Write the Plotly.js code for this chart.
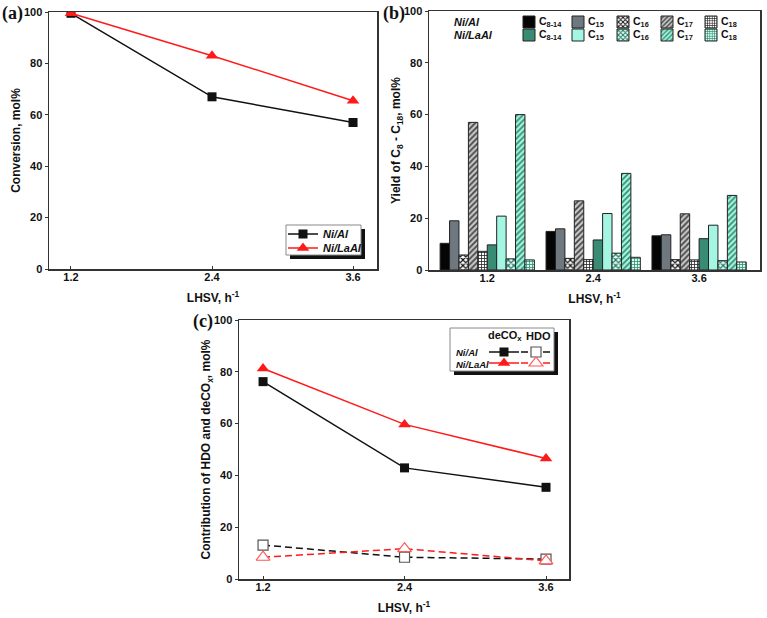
<!DOCTYPE html>
<html><head><meta charset="utf-8">
<script src="https://cdn.plot.ly/plotly-3.0.1.min.js"></script>
<style>html,body{margin:0;padding:0;background:#fff}#chart{width:767px;height:618px}</style>
</head><body><div id="chart"></div>
<script>
// ---------- Panel (a): conversion ----------
var lhsv = [1.2, 2.4, 3.6];
var lhsvLabels = ['1.2', '2.4', '3.6'];
var convNiAl = [99.5, 67, 57];
var convNiLaAl = [99.5, 83, 65.5];

// ---------- Panel (b): yields by fraction ----------
var lhsvCats = ['1.2', '2.4', '3.6'];
var fractionLabels = ['C<sub>8-14</sub>', 'C<sub>15</sub>', 'C<sub>16</sub>', 'C<sub>17</sub>', 'C<sub>18</sub>'];
var niAl_C8_14 = [10.3, 14.9, 13.2];
var niAl_C15 = [19.0, 15.9, 13.6];
var niAl_C16 = [5.8, 4.5, 4.0];
var niAl_C17 = [57.0, 26.7, 21.7];
var niAl_C18 = [7.2, 4.0, 3.9];
var niLaAl_C8_14 = [9.7, 11.6, 12.1];
var niLaAl_C15 = [20.8, 21.8, 17.3];
var niLaAl_C16 = [4.3, 6.5, 3.6];
var niLaAl_C17 = [60.0, 37.3, 28.8];
var niLaAl_C18 = [3.9, 4.9, 3.1];

// ---------- Panel (c): contribution ----------
var decoxNiAl = [76.2, 42.9, 35.4];
var decoxNiLaAl = [81.3, 59.7, 46.5];
var hdoNiAl = [13.1, 8.4, 7.7];
var hdoNiLaAl = [8.4, 11.7, 7.0];

var W = 767, H = 618;
function px(x) { return x / W; }
function py(y) { return 1 - y / H; }
var FONT = 'Liberation Sans, Arial, sans-serif';

var traces = [];
var legends = {};
var legendCount = 0;
function newLegend(xPx, yPx, fontOpts) {
  legendCount++;
  var id = legendCount === 1 ? 'legend' : 'legend' + legendCount;
  legends[id] = {
    x: px(xPx), y: py(yPx), xanchor: 'left', yanchor: 'middle',
    bgcolor: 'rgba(0,0,0,0)', borderwidth: 0, orientation: 'v',
    font: Object.assign({family: FONT, size: 11, weight: 'bold', style: 'italic', color: '#111'}, fontOpts || {})
  };
  return id;
}

// (a) traces
traces.push({x: lhsv, y: convNiAl, name: 'Ni/Al', type: 'scatter', mode: 'lines+markers',
  xaxis: 'x', yaxis: 'y', line: {color: '#111', width: 1.5},
  marker: {symbol: 'square', size: 9, color: '#111'}, legend: newLegend(283, 234)});
traces.push({x: lhsv, y: convNiLaAl, name: 'Ni/LaAl', type: 'scatter', mode: 'lines+markers',
  xaxis: 'x', yaxis: 'y', line: {color: '#ff1a1a', width: 1.5},
  marker: {symbol: 'triangle-up', size: 11, color: '#ff1a1a'}, legend: newLegend(283, 248)});

// (b) traces
var niAlSeries = [niAl_C8_14, niAl_C15, niAl_C16, niAl_C17, niAl_C18];
var niLaAlSeries = [niLaAl_C8_14, niLaAl_C15, niLaAl_C16, niLaAl_C17, niLaAl_C18];
var niAlStyles = [
  {color: '#050505'},
  {color: '#6f787e'},
  {color: '#fff', pattern: {shape: 'x', fgcolor: '#111', bgcolor: '#fff', size: 4, solidity: 0.5}},
  {color: '#bbb', pattern: {shape: '/', fgcolor: '#444', bgcolor: '#c8c8c8', size: 4, solidity: 0.45}},
  {color: '#fff', pattern: {shape: '+', fgcolor: '#222', bgcolor: '#fff', size: 3, solidity: 0.45}}
];
var niLaAlStyles = [
  {color: '#3a8b74'},
  {color: '#a4f6e2'},
  {color: '#fff', pattern: {shape: 'x', fgcolor: '#1f7560', bgcolor: '#e6fff7', size: 4, solidity: 0.5}},
  {color: '#a6f2dc', pattern: {shape: '/', fgcolor: '#2e8a70', bgcolor: '#a6f2dc', size: 4, solidity: 0.4}},
  {color: '#d0fff0', pattern: {shape: '+', fgcolor: '#2e8a70', bgcolor: '#d6fff2', size: 3, solidity: 0.45}}
];
var swatchX = [529, 578, 623, 667, 711];
var annotations = [];
function addBars(series, styles, groupName, rowY) {
  for (var i = 0; i < series.length; i++) {
    var st = styles[i];
    var mk = {color: st.color, line: {color: '#222', width: 1}};
    if (st.pattern) mk.pattern = st.pattern;
    traces.push({type: 'bar', x: lhsvCats, y: series[i], name: ' ',
      legendgroup: groupName + i, xaxis: 'x2', yaxis: 'y2', marker: mk,
      hovertemplate: groupName + ' ' + fractionLabels[i] + ': %{y}<extra></extra>',
      legend: newLegend(swatchX[i] - 20, rowY)});
    annotations.push({xref: 'paper', yref: 'paper', x: px(swatchX[i] + 8), y: py(rowY),
      xanchor: 'left', yanchor: 'middle', showarrow: false, text: fractionLabels[i],
      font: {family: FONT, size: 10.5, weight: 'bold', color: '#111'}});
  }
  annotations.push({xref: 'paper', yref: 'paper', x: px(452), y: py(rowY),
    xanchor: 'left', yanchor: 'middle', showarrow: false, text: groupName,
    font: {family: FONT, size: 11, weight: 'bold', style: 'italic', color: '#111'}});
}
addBars(niAlSeries, niAlStyles, 'Ni/Al', 22);
addBars(niLaAlSeries, niLaAlStyles, 'Ni/LaAl', 35);

// (c) traces
traces.push({x: lhsv, y: decoxNiAl, name: ' ', type: 'scatter', mode: 'lines+markers',
  xaxis: 'x3', yaxis: 'y3', line: {color: '#111', width: 1.5},
  marker: {symbol: 'square', size: 9, color: '#111'}, legend: newLegend(484, 352),
  hovertemplate: 'deCOx Ni/Al: %{y}<extra></extra>'});
traces.push({x: lhsv, y: decoxNiLaAl, name: ' ', type: 'scatter', mode: 'lines+markers',
  xaxis: 'x3', yaxis: 'y3', line: {color: '#ff1a1a', width: 1.5},
  marker: {symbol: 'triangle-up', size: 11, color: '#ff1a1a'}, legend: newLegend(484, 363),
  hovertemplate: 'deCOx Ni/LaAl: %{y}<extra></extra>'});
traces.push({x: lhsv, y: hdoNiAl, name: ' ', type: 'scatter', mode: 'lines+markers',
  xaxis: 'x3', yaxis: 'y3', line: {color: '#111', width: 1.5, dash: '7px,4px'},
  marker: {symbol: 'square', size: 10, color: '#fff', line: {color: '#555', width: 1.2}}, legend: newLegend(516, 352),
  hovertemplate: 'HDO Ni/Al: %{y}<extra></extra>'});
traces.push({x: lhsv, y: hdoNiLaAl, name: ' ', type: 'scatter', mode: 'lines+markers',
  xaxis: 'x3', yaxis: 'y3', line: {color: '#ff1a1a', width: 1.5, dash: '7px,4px'},
  marker: {symbol: 'triangle-up', size: 12, color: '#fff', line: {color: '#ff5a5a', width: 1.2}}, legend: newLegend(516, 363),
  hovertemplate: 'HDO Ni/LaAl: %{y}<extra></extra>'});

annotations.push(
  {xref: 'paper', yref: 'paper', x: px(505), y: py(336), xanchor: 'center', yanchor: 'middle', showarrow: false,
   text: 'deCO<sub>x</sub>', font: {family: FONT, size: 11, weight: 'bold', color: '#111'}},
  {xref: 'paper', yref: 'paper', x: px(538), y: py(336), xanchor: 'center', yanchor: 'middle', showarrow: false,
   text: 'HDO', font: {family: FONT, size: 11, weight: 'bold', color: '#111'}},
  {xref: 'paper', yref: 'paper', x: px(454), y: py(352), xanchor: 'left', yanchor: 'middle', showarrow: false,
   text: 'Ni/Al', font: {family: FONT, size: 9.5, weight: 'bold', style: 'italic', color: '#111'}},
  {xref: 'paper', yref: 'paper', x: px(454), y: py(364), xanchor: 'left', yanchor: 'middle', showarrow: false,
   text: 'Ni/LaAl', font: {family: FONT, size: 9.5, weight: 'bold', style: 'italic', color: '#111'}}
);

// panel labels
[['(a)', 12, 13], ['(b)', 394, 13], ['(c)', 203, 321]].forEach(function (p) {
  annotations.push({xref: 'paper', yref: 'paper', x: px(p[1]), y: py(p[2]), xanchor: 'center', yanchor: 'middle',
    showarrow: false, text: '<b>' + p[0] + '</b>', font: {family: 'Liberation Serif, Times New Roman, serif', size: 18, color: '#111'}});
});

function rectPx(x0, y0, x1, y1, fill, line) {
  return {type: 'rect', xref: 'paper', yref: 'paper', layer: 'above',
    x0: px(x0), x1: px(x1), y0: py(y1), y1: py(y0), fillcolor: fill,
    line: line || {width: 0}};
}
var shapes = [
  rectPx(290, 229, 365, 259, '#111'),
  rectPx(286, 225, 361, 255, '#fff', {color: '#888', width: 1}),
  rectPx(454, 332, 558, 375, '#111'),
  rectPx(450, 328, 554, 371, '#fff', {color: '#888', width: 1})
];

var axisBase = {
  showline: true, mirror: true, linecolor: '#333', linewidth: 1.5,
  ticks: 'outside', ticklen: 3, tickcolor: '#333', showgrid: false, zeroline: false,
  tickfont: {family: FONT, size: 11, weight: 'bold', color: '#111'}
};
function ax(extra) { return Object.assign({}, axisBase, extra); }
var titleFont = {family: FONT, size: 12, weight: 'bold', color: '#111'};
var xTitle = 'LHSV, h<sup>-1</sup>';

var layout = Object.assign({
  width: W, height: H, margin: {l: 0, r: 0, t: 0, b: 0},
  paper_bgcolor: '#fff', plot_bgcolor: '#fff', showlegend: true,
  barmode: 'group', bargap: 0.11, bargroupgap: 0,
  xaxis: ax({domain: [px(49), px(377)], range: [1.013, 3.804], tickvals: lhsv, ticktext: lhsvLabels,
    ticks: 'inside', ticklabelstandoff: -3, anchor: 'y', title: {text: xTitle, font: titleFont, standoff: 12}}),
  yaxis: ax({domain: [py(269), py(12)], range: [0, 100], dtick: 20, anchor: 'x',
    title: {text: 'Conversion, mol%', font: titleFont, standoff: 0}}),
  xaxis2: ax({type: 'category', domain: [px(429), px(760)], range: [-0.55, 2.575], anchor: 'y2',
    ticks: 'inside', ticklabelstandoff: -3, title: {text: xTitle, font: titleFont, standoff: 12}}),
  yaxis2: ax({domain: [py(270), py(11)], range: [0, 100], dtick: 20, anchor: 'x2',
    title: {text: 'Yield of C<sub>8</sub> - C<sub>18</sub>, mol%', font: titleFont, standoff: 0}}),
  xaxis3: ax({domain: [px(239), px(569)], range: [0.996, 3.795], tickvals: lhsv, ticktext: lhsvLabels,
    ticks: 'inside', ticklabelstandoff: -3, anchor: 'y3', title: {text: xTitle, font: titleFont, standoff: 12}}),
  yaxis3: ax({domain: [py(579), py(320)], range: [0, 100], dtick: 20, anchor: 'x3',
    title: {text: 'Contribution of HDO and deCO<sub>x</sub>, mol%', font: titleFont, standoff: 0}}),
  annotations: annotations, shapes: shapes
}, legends);

Plotly.newPlot('chart', traces, layout, {displayModeBar: false, staticPlot: true});
</script></body></html>
